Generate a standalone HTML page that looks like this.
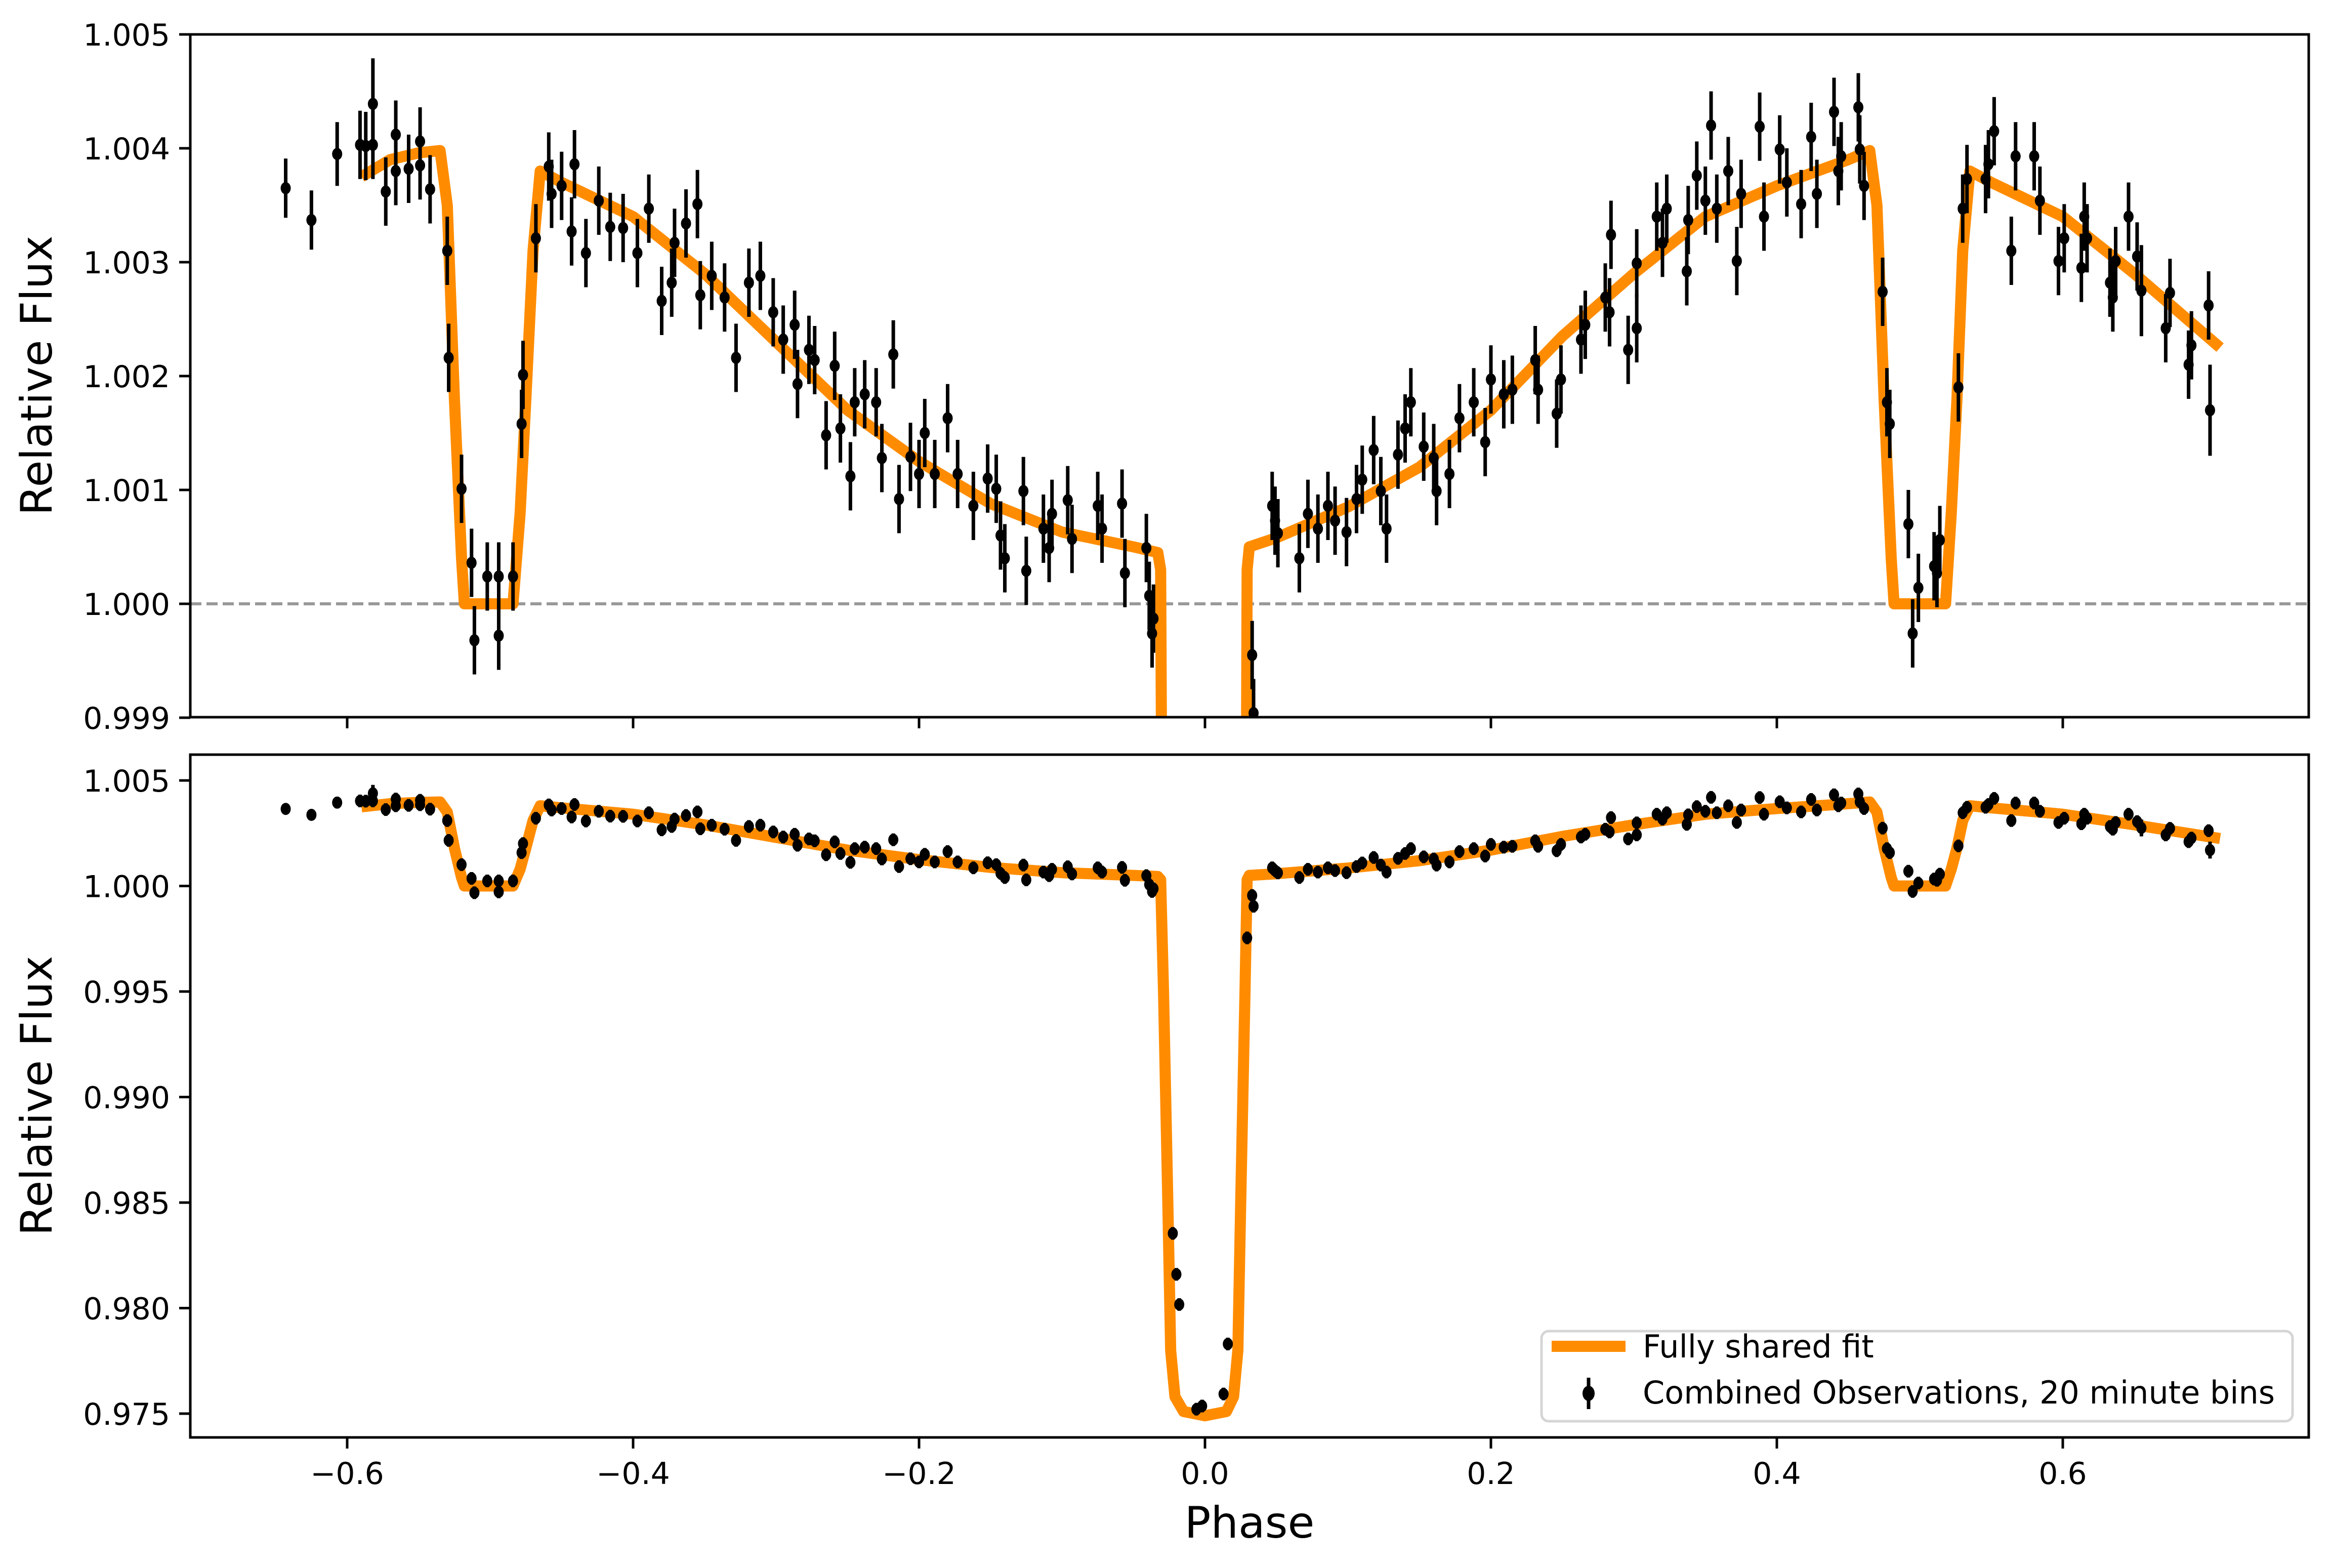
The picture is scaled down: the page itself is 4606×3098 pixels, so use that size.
<!DOCTYPE html>
<html><head><meta charset="utf-8"><style>
html,body{margin:0;padding:0;background:#fff;overflow:hidden;width:4606px;height:3098px}
svg{display:block}
text{font-family:"DejaVu Sans","Liberation Sans",sans-serif;fill:#000}
</style></head><body>
<svg id="chart" xmlns="http://www.w3.org/2000/svg" width="4606" height="3098" viewBox="0 0 4606 3098">
<defs>
<clipPath id="clipTop"><rect x="376" y="68" width="4186" height="1349"/></clipPath>
<clipPath id="clipBot"><rect x="376" y="1491" width="4186" height="1349"/></clipPath>
</defs>
<g id="top"></g>
<g id="bot"></g>
<text x="2469" y="3038" font-size="86" text-anchor="middle">Phase</text>
<text transform="translate(102,742) rotate(-90)" font-size="86" text-anchor="middle">Relative Flux</text>
<text transform="translate(102,2165) rotate(-90)" font-size="86" text-anchor="middle">Relative Flux</text>
<g>
<rect x="3046" y="2630" width="1484" height="178" rx="14" fill="#fff" stroke="#d5d5d5" stroke-width="5"/>
<line x1="3066" y1="2660" x2="3212" y2="2660" stroke="#ff8c00" stroke-width="22"/>
<text x="3246" y="2682" font-size="62">Fully shared fit</text>
<line x1="3139" y1="2722" x2="3139" y2="2784" stroke="#000" stroke-width="7"/>
<ellipse cx="3139" cy="2753" rx="12" ry="15" fill="#000"/>
<text x="3246" y="2773" font-size="62">Combined Observations, 20 minute bins</text>
</g>
</svg>
<script>
const modelPhase=[-0.59,-0.57,-0.55,-0.535,-0.53,-0.525,-0.52,-0.518,-0.484,-0.479,-0.475,-0.47,-0.465,-0.45,-0.4,-0.35,-0.3,-0.25,-0.2,-0.15,-0.1,-0.05,-0.033,-0.031,-0.029,-0.026,-0.024,-0.021,-0.015,0,0.015,0.020,0.023,0.025,0.028,0.0295,0.031,0.05,0.1,0.15,0.2,0.25,0.3,0.35,0.4,0.45,0.465,0.47,0.475,0.48,0.482,0.518,0.522,0.526,0.53,0.535,0.55,0.6,0.65,0.71];
const modelFlux=[1.00375,1.0039,1.00396,1.00398,1.0035,1.0018,1.0004,1.0,1.0,1.0008,1.0018,1.0031,1.0038,1.0037,1.0034,1.0029,1.0023,1.0017,1.00125,1.00088,1.00063,1.0005,1.00045,1.0003,0.995,0.985,0.978,0.9758,0.9751,0.9749,0.9751,0.9758,0.978,0.985,0.995,1.0003,1.0005,1.00058,1.00085,1.0012,1.0017,1.00235,1.0029,1.0034,1.00367,1.0039,1.00398,1.0035,1.0018,1.0004,1.0,1.0,1.0008,1.0018,1.0031,1.0038,1.0037,1.0034,1.0029,1.00225];
const obsPhase=[-0.643,-0.625,-0.607,-0.591,-0.587,-0.582,-0.582,-0.573,-0.566,-0.566,-0.557,-0.549,-0.549,-0.542,-0.530,-0.529,-0.520,-0.513,-0.511,-0.502,-0.494,-0.494,-0.484,-0.478,-0.477,-0.468,-0.459,-0.457,-0.45,-0.443,-0.441,-0.433,-0.424,-0.416,-0.407,-0.397,-0.389,-0.380,-0.373,-0.371,-0.363,-0.355,-0.353,-0.345,-0.336,-0.328,-0.319,-0.311,-0.302,-0.295,-0.287,-0.285,-0.277,-0.273,-0.265,-0.259,-0.255,-0.248,-0.245,-0.238,-0.230,-0.226,-0.218,-0.214,-0.206,-0.2,-0.196,-0.189,-0.18,-0.173,-0.162,-0.152,-0.146,-0.143,-0.140,-0.127,-0.125,-0.113,-0.109,-0.107,-0.096,-0.093,-0.075,-0.072,-0.058,-0.056,-0.041,-0.039,-0.037,-0.036,-0.0225,-0.020,-0.018,-0.006,-0.002,0.013,0.016,0.0295,0.033,0.034,0.047,0.049,0.051,0.066,0.072,0.079,0.086,0.091,0.099,0.106,0.110,0.118,0.123,0.127,0.135,0.140,0.144,0.153,0.160,0.162,0.171,0.178,0.188,0.196,0.2,0.209,0.215,0.231,0.233,0.246,0.249,0.263,0.266,0.280,0.283,0.284,0.296,0.302,0.302,0.316,0.320,0.323,0.337,0.338,0.344,0.350,0.354,0.358,0.366,0.372,0.375,0.388,0.391,0.402,0.407,0.417,0.424,0.428,0.440,0.443,0.445,0.457,0.458,0.461,0.474,0.477,0.479,0.492,0.495,0.499,0.510,0.512,0.514,0.527,0.530,0.533,0.546,0.548,0.552,0.564,0.567,0.580,0.584,0.597,0.601,0.613,0.615,0.617,0.633,0.635,0.637,0.646,0.652,0.655,0.672,0.675,0.688,0.690,0.702,0.703];
const obsFlux=[1.00365,1.00337,1.00395,1.00403,1.00402,1.00439,1.00403,1.00362,1.00412,1.0038,1.00382,1.00385,1.00406,1.00364,1.0031,1.00216,1.00101,1.00036,0.99968,1.00024,1.00024,0.99972,1.00024,1.00158,1.00201,1.00321,1.00384,1.0036,1.00367,1.00327,1.00386,1.00308,1.00354,1.00331,1.0033,1.00308,1.00347,1.00266,1.00282,1.00317,1.00334,1.00351,1.00271,1.00288,1.00269,1.00216,1.00282,1.00288,1.00256,1.00232,1.00245,1.00193,1.00223,1.00214,1.00148,1.00209,1.00154,1.00112,1.00177,1.00184,1.00177,1.00128,1.00219,1.00092,1.00129,1.00114,1.0015,1.00114,1.00163,1.00114,1.00086,1.0011,1.00101,1.0006,1.0004,1.00099,1.00029,1.00066,1.00049,1.00079,1.00091,1.00057,1.00086,1.00066,1.00088,1.00027,1.00049,1.00007,0.99974,0.99987,0.98354,0.9816,0.98017,0.97521,0.97536,0.97593,0.9783,0.99754,0.99955,0.99904,1.00086,1.00073,1.00062,1.0004,1.00079,1.00066,1.00086,1.00073,1.00063,1.00092,1.00109,1.00135,1.00099,1.00066,1.00131,1.00154,1.00177,1.00138,1.00128,1.00099,1.00114,1.00163,1.00177,1.00142,1.00197,1.00184,1.00188,1.00214,1.00188,1.00167,1.00197,1.00232,1.00245,1.00269,1.00256,1.00324,1.00223,1.00242,1.00299,1.0034,1.00317,1.00347,1.00292,1.00337,1.00376,1.00354,1.0042,1.00347,1.0038,1.00301,1.0036,1.00419,1.0034,1.00399,1.0037,1.00351,1.0041,1.0036,1.00432,1.0038,1.00393,1.00436,1.00399,1.00367,1.00274,1.00177,1.00158,1.0007,0.99974,1.00014,1.00033,1.00027,1.00056,1.0019,1.00347,1.00373,1.00373,1.00386,1.00415,1.0031,1.00393,1.00393,1.00354,1.00301,1.00321,1.00295,1.0034,1.00321,1.00282,1.00269,1.00301,1.0034,1.00305,1.00275,1.00242,1.00273,1.0021,1.00227,1.00262,1.0017];
const obsErr=[0.00026,0.00026,0.00028,0.0003,0.0003,0.0004,0.0003,0.0003,0.0003,0.0003,0.0003,0.0003,0.0003,0.0003,0.0003,0.0003,0.0003,0.0003,0.0003,0.0003,0.0003,0.0003,0.0003,0.0003,0.0003,0.0003,0.0003,0.0003,0.0003,0.0003,0.0003,0.0003,0.0003,0.0003,0.0003,0.0003,0.0003,0.0003,0.0003,0.0003,0.0003,0.0003,0.0003,0.0003,0.0003,0.0003,0.0003,0.0003,0.0003,0.0003,0.0003,0.0003,0.0003,0.0003,0.0003,0.0003,0.0003,0.0003,0.0003,0.0003,0.0003,0.0003,0.0003,0.0003,0.0003,0.0003,0.0003,0.0003,0.0003,0.0003,0.0003,0.0003,0.0003,0.0003,0.0003,0.0003,0.0003,0.0003,0.0003,0.0003,0.0003,0.0003,0.0003,0.0003,0.0003,0.0003,0.0003,0.0003,0.0003,0.0003,0.0003,0.0003,0.0003,0.0003,0.0003,0.0003,0.0003,0.0003,0.0003,0.0003,0.0003,0.0003,0.0003,0.0003,0.0003,0.0003,0.0003,0.0003,0.0003,0.0003,0.0003,0.0003,0.0003,0.0003,0.0003,0.0003,0.0003,0.0003,0.0003,0.0003,0.0003,0.0003,0.0003,0.0003,0.0003,0.0003,0.0003,0.0003,0.0003,0.0003,0.0003,0.0003,0.0003,0.0003,0.0003,0.0003,0.0003,0.0003,0.0003,0.0003,0.0003,0.0003,0.0003,0.0003,0.0003,0.0003,0.0003,0.0003,0.0003,0.0003,0.0003,0.0003,0.0003,0.0003,0.0003,0.0003,0.0003,0.0003,0.0003,0.0003,0.0003,0.0003,0.0003,0.0003,0.0003,0.0003,0.0003,0.0003,0.0003,0.0003,0.0003,0.0003,0.0003,0.0003,0.0003,0.0003,0.0003,0.0003,0.0003,0.0003,0.0003,0.0003,0.0003,0.0003,0.0003,0.0003,0.0003,0.0003,0.0003,0.0003,0.0003,0.0003,0.0003,0.0004,0.0003,0.0003,0.0003,0.0003,0.0003,0.0004,0.0003,0.0003,0.0003,0.0003,0.0003,0.0004,0.0003,0.0003,0.0004,0.0003,0.0004,0.0004];
const xTicks=[-0.6,-0.4,-0.2,0.0,0.2,0.4,0.6];
const xTickLabels=["\u22120.6","\u22120.4","\u22120.2","0.0","0.2","0.4","0.6"];
const yTicksTop=[0.999,1.000,1.001,1.002,1.003,1.004,1.005];
const yTickLabelsTop=["0.999","1.000","1.001","1.002","1.003","1.004","1.005"];
const yTicksBot=[0.975,0.980,0.985,0.990,0.995,1.000,1.005];
const yTickLabelsBot=["0.975","0.980","0.985","0.990","0.995","1.000","1.005"];

const NS="http://www.w3.org/2000/svg";
const L=376,R=4562;
function sx(p){return 2381+p*2825;}
function syTop(v){return 68+(1.005-v)*225000;}
function syBot(v){return 1542+(1.005-v)*41700;}
function mk(tag,attrs,parent){const e=document.createElementNS(NS,tag);for(const k in attrs)e.setAttribute(k,attrs[k]);parent.appendChild(e);return e;}

function panel(g,top,bot,sy,clip,yt,ytl,showX,rm,pr){
  const cg=mk('g',{'clip-path':'url(#'+clip+')'},g);
  
  
  if(showX===false){
    const d=mk('line',{x1:L,x2:R,y1:sy(1.0),y2:sy(1.0),stroke:'#999','stroke-width':6,'stroke-dasharray':'22 10'},cg);
    
    
  }
  let dpath='';
  for(let i=0;i<modelPhase.length;i++){dpath+=(i?'L':'M')+sx(modelPhase[i]).toFixed(1)+' '+sy(modelFlux[i]).toFixed(1);}
  const m=mk('path',{d:dpath,fill:'none',stroke:'#ff8c00','stroke-width':22,'stroke-linejoin':'round'},cg);
  
  
  for(let i=0;i<obsPhase.length;i++){
    const x=sx(obsPhase[i]);
    const eb=mk('line',{x1:x,x2:x,y1:sy(obsFlux[i]+obsErr[i]),y2:sy(obsFlux[i]-obsErr[i]),stroke:'#000','stroke-width':pr},cg);
    
    
    const pt=mk('ellipse',{cx:x,cy:sy(obsFlux[i]),rx:rm,ry:rm*1.2,fill:'#000'},cg);
    
    
  }
  const fr=mk('rect',{x:L,y:top,width:R-L,height:bot-top,fill:'none',stroke:'#000','stroke-width':5},g);
  
  
  for(let i=0;i<xTicks.length;i++){
    const x=sx(xTicks[i]);
    const t=mk('line',{x1:x,x2:x,y1:bot,y2:bot+22,stroke:'#000','stroke-width':5},g);
    
    
    if(showX){
      const tl=mk('text',{x:x,y:bot+92,'font-size':60,'text-anchor':'middle'},g);
      tl.textContent=xTickLabels[i];
      
      
    }
  }
  for(let i=0;i<yt.length;i++){
    const y=sy(yt[i]);
    const t=mk('line',{x1:L-22,x2:L,y1:y,y2:y,stroke:'#000','stroke-width':5},g);
    
    
    const tl=mk('text',{x:L-40,y:y+22,'font-size':60,'text-anchor':'end'},g);
    tl.textContent=ytl[i];
    
    
  }
}
panel(document.getElementById('top'),68,1417,syTop,'clipTop',yTicksTop,yTickLabelsTop,false,10,7);
panel(document.getElementById('bot'),1491,2840,syBot,'clipBot',yTicksBot,yTickLabelsBot,true,10,7);
</script>
</body></html>
